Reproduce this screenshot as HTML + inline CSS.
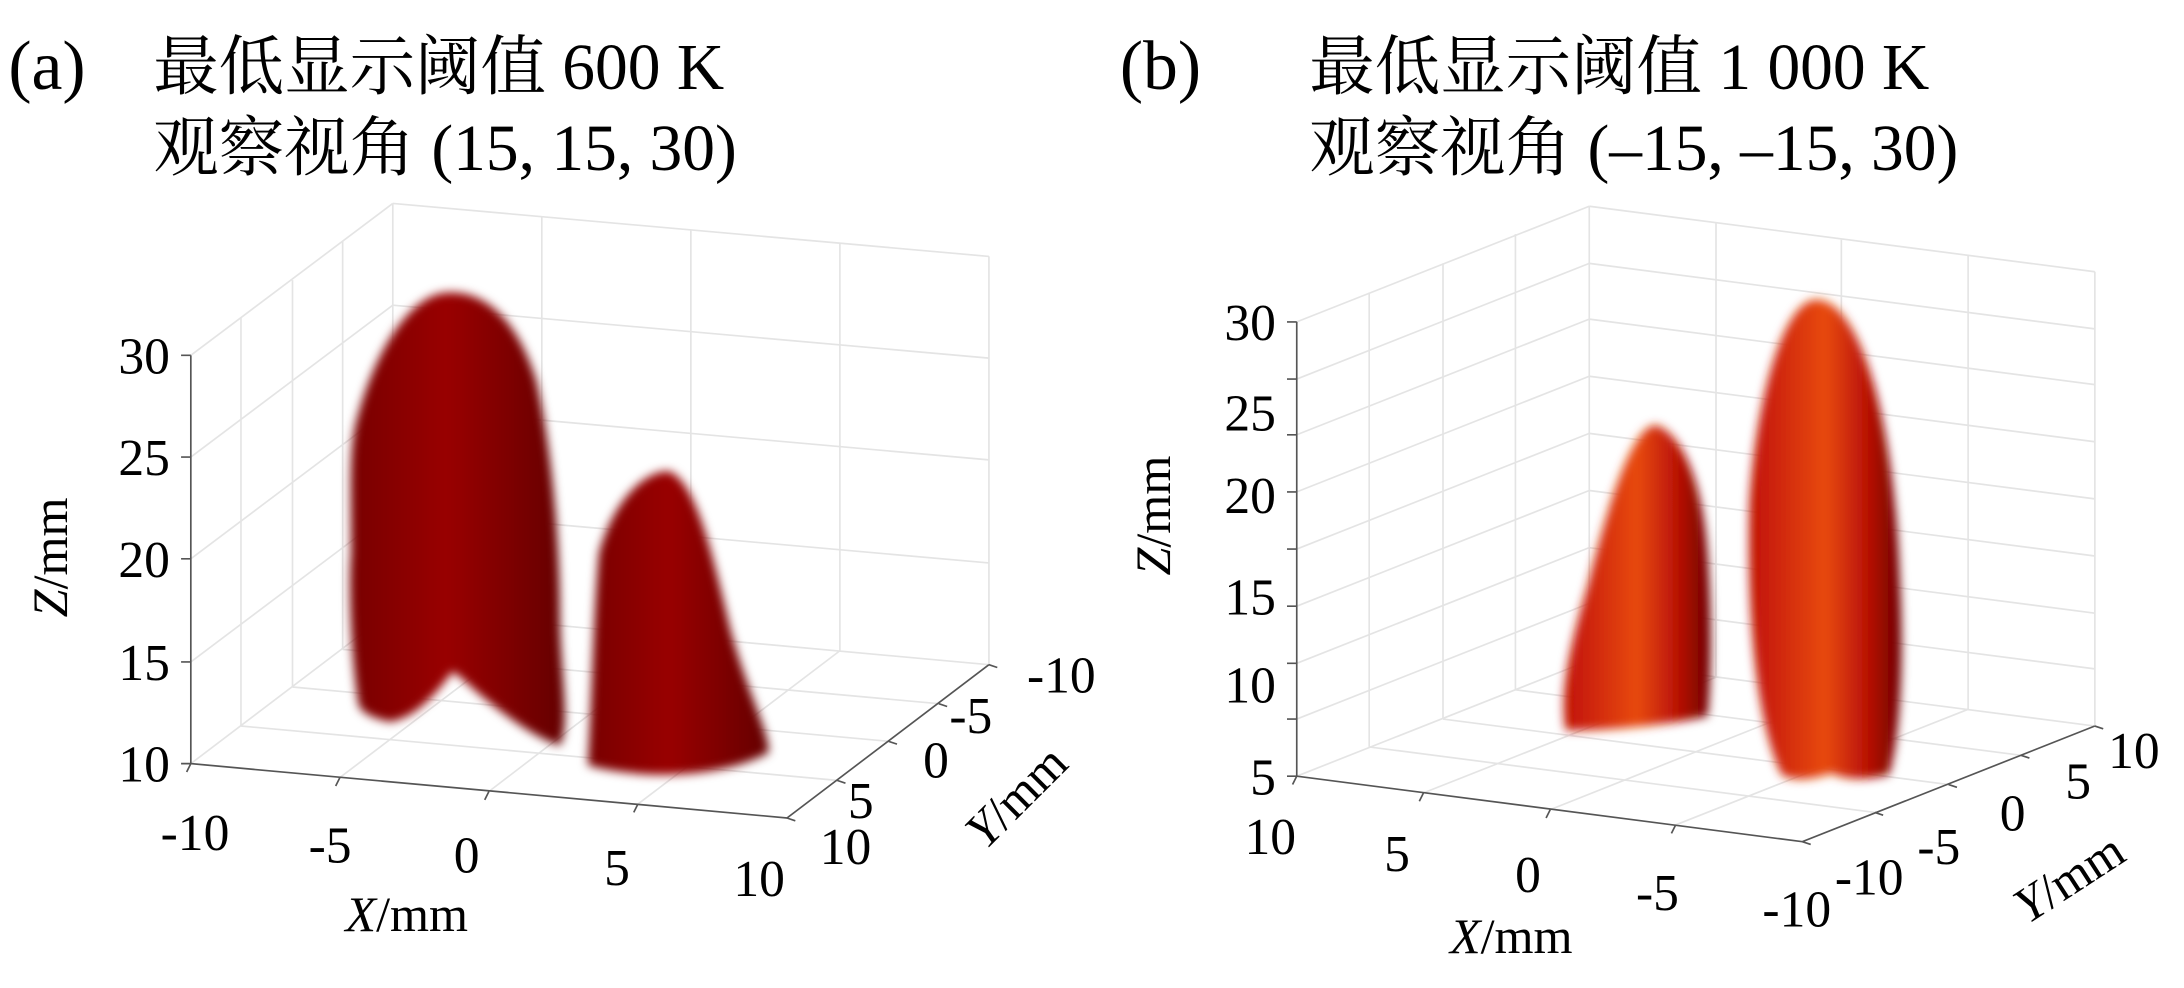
<!DOCTYPE html>
<html><head><meta charset="utf-8"><style>
html,body{margin:0;padding:0;background:#fff;}
svg{display:block;}
text{font-family:"Liberation Serif","Noto Serif CJK SC","Noto Sans CJK SC",serif;fill:#000;}
</style></head><body>
<svg width="2184" height="988" viewBox="0 0 1568 709" preserveAspectRatio="none" xmlns="http://www.w3.org/2000/svg">
<defs>
<filter id="bl" x="-20%" y="-20%" width="140%" height="140%"><feGaussianBlur stdDeviation="3.5"/></filter>
<linearGradient id="ra" x1="0" x2="1" y1="0" y2="0">
<stop offset="0" stop-color="#780000"/><stop offset="0.45" stop-color="#990606"/><stop offset="1" stop-color="#640000"/></linearGradient>
<linearGradient id="rb" x1="0" x2="1" y1="0" y2="0">
<stop offset="0" stop-color="#c01005"/><stop offset="0.5" stop-color="#e84a10"/><stop offset="0.78" stop-color="#b81005"/><stop offset="1" stop-color="#6a0000"/></linearGradient>
</defs>
<rect width="1568" height="709" fill="#fff"/>

<!-- Titles -->
<text x="6" y="64" font-size="50">(a)</text>
<text x="110" y="64" font-size="47">最低显示阈值 600 K</text>
<text x="110" y="122" font-size="47">观察视角 (15, 15, 30)</text>
<text x="804" y="64" font-size="50">(b)</text>
<text x="940" y="64" font-size="47">最低显示阈值 1 000 K</text>
<text x="940" y="122" font-size="47">观察视角 (–15, –15, 30)</text>

<!-- Panel a grid -->
<g stroke="#e4e4e4" stroke-width="1.2" fill="none">
<path d="M137 255 L282 146 M137 328 L282 219 M137 401 L282 292 M137 475 L282 366 M137 548 L282 438"/>
<path d="M173 521 L173 228 M210 493 L210 201 M246 466 L246 173 M282 438 L282 146"/>
<path d="M282 146 L710 184 M282 219 L710 257 M282 292 L710 330 M282 366 L710 404 M282 438 L710 477"/>
<path d="M389 448 L389 156 M496 457 L496 165 M603 467 L603 175 M710 477 L710 184"/>
<path d="M173 521 L601 560 M210 493 L638 532 M246 466 L674 505"/>
<path d="M244 558 L389 448 M351 568 L496 457 M458 577 L603 467"/>
</g>
<g stroke="#555" stroke-width="1.2" fill="none">
<path d="M137 255 L137 548 L565 587 L710 477"/>
<path d="M130 255h7 M130 328h7 M130 401h7 M130 475h7 M130 548h7"/>
<path d="M244 558 l-3 6 M351 568 l-3 6 M458 577 l-3 6 M137 548 l-3 6"/>
<path d="M601 560 l6 2 M638 532 l6 2 M674 505 l6 2 M710 477 l6 2 M565 587 l6 2"/>
</g>
<g font-size="37" text-anchor="end">
<text x="122" y="268">30</text><text x="122" y="341">25</text><text x="122" y="414">20</text><text x="122" y="488">15</text><text x="122" y="561">10</text>
</g>
<g font-size="37" text-anchor="middle">
<text x="140" y="610">-10</text><text x="237" y="619">-5</text><text x="335" y="626">0</text><text x="443" y="635">5</text><text x="545" y="643">10</text>
<text x="607" y="620">10</text><text x="618" y="587">5</text><text x="672" y="558">0</text><text x="697" y="526">-5</text><text x="762" y="497">-10</text>
</g>
<text x="292" y="668" font-size="36" text-anchor="middle"><tspan font-style="italic">X</tspan>/mm</text>
<text transform="translate(48,400) rotate(-90)" font-size="36" text-anchor="middle"><tspan font-style="italic">Z</tspan>/mm</text>
<text transform="translate(738,580) rotate(-45)" font-size="36" text-anchor="middle"><tspan font-style="italic">Y</tspan>/mm</text>

<!-- Panel a flames -->
<path d="M320 210 C345 208 370 225 385 273 C398 330 402 400 402 440 C402 480 410 520 402 535 C385 530 365 515 350 503 C340 495 330 485 325 482 C315 495 300 515 280 518 C265 515 257 510 257 503 C252 470 250 420 252 397 C252 350 250 320 257 298 C270 250 295 212 320 210 Z" fill="url(#ra)" filter="url(#bl)"/>
<path d="M480 338 C500 345 512 400 525 454 C538 500 552 525 552 540 C530 552 500 556 475 556 C455 556 430 552 422 549 C425 500 426 440 430 397 C440 360 462 338 480 338 Z" fill="url(#ra)" filter="url(#bl)"/>

<!-- Panel b grid -->
<g stroke="#e4e4e4" stroke-width="1.2" fill="none">
<path d="M931 231 L1141 148 M931 272 L1141 189 M931 312 L1141 229 M931 353 L1141 270 M931 394 L1141 311 M931 435 L1141 352 M931 476 L1141 393 M931 516 L1141 433 M931 557 L1141 474"/>
<path d="M983 536 L983 210 M1036 516 L1036 189 M1088 495 L1088 168 M1141 474 L1141 148"/>
<path d="M1141 148 L1504 195 M1141 189 L1504 236 M1141 229 L1504 276 M1141 270 L1504 317 M1141 311 L1504 358 M1141 352 L1504 399 M1141 393 L1504 440 M1141 433 L1504 480 M1141 474 L1504 521"/>
<path d="M1232 486 L1232 160 M1322 498 L1322 172 M1413 509 L1413 183 M1504 521 L1504 195"/>
<path d="M983 536 L1346 583 M1036 516 L1399 563 M1088 495 L1451 542"/>
<path d="M1022 569 L1232 486 M1113 581 L1322 498 M1203 592 L1413 509"/>
</g>
<g stroke="#555" stroke-width="1.2" fill="none">
<path d="M931 231 L931 557 L1294 604 L1504 521"/>
<path d="M924 231h7 M924 272h7 M924 312h7 M924 353h7 M924 394h7 M924 435h7 M924 476h7 M924 516h7 M924 557h7"/>
<path d="M931 557 l-3 6 M1022 569 l-3 6 M1113 581 l-3 6 M1203 592 l-3 6"/>
<path d="M1346 583 l6 2 M1399 563 l6 2 M1451 542 l6 2 M1504 521 l6 2 M1294 604 l6 2"/>
</g>
<g font-size="37" text-anchor="end">
<text x="916" y="244">30</text><text x="916" y="309">25</text><text x="916" y="368">20</text><text x="916" y="441">15</text><text x="916" y="504">10</text><text x="916" y="570">5</text>
</g>
<g font-size="37" text-anchor="middle">
<text x="912" y="613">10</text><text x="1003" y="625">5</text><text x="1097" y="640">0</text><text x="1190" y="653">-5</text><text x="1290" y="665">-10</text>
<text x="1342" y="642">-10</text><text x="1392" y="620">-5</text><text x="1445" y="596">0</text><text x="1492" y="573">5</text><text x="1532" y="551">10</text>
</g>
<text x="1085" y="684" font-size="36" text-anchor="middle"><tspan font-style="italic">X</tspan>/mm</text>
<text transform="translate(840,370) rotate(-90)" font-size="36" text-anchor="middle"><tspan font-style="italic">Z</tspan>/mm</text>
<text transform="translate(1492,640) rotate(-33)" font-size="36" text-anchor="middle"><tspan font-style="italic">Y</tspan>/mm</text>

<!-- Panel b flames -->
<path d="M1189 305 C1205 310 1222 340 1226 397 C1230 450 1228 500 1226 514 C1200 520 1150 525 1124 524 C1120 500 1125 470 1140 420 C1155 360 1172 305 1189 305 Z" fill="url(#rb)" filter="url(#bl)"/>
<path d="M1304 215 C1335 215 1360 300 1364 415 C1368 490 1362 540 1356 556 C1340 560 1325 560 1315 555 C1305 558 1290 562 1279 556 C1262 520 1254 450 1256 362 C1260 290 1280 215 1304 215 Z" fill="url(#rb)" filter="url(#bl)"/>
</svg>
</body></html>
